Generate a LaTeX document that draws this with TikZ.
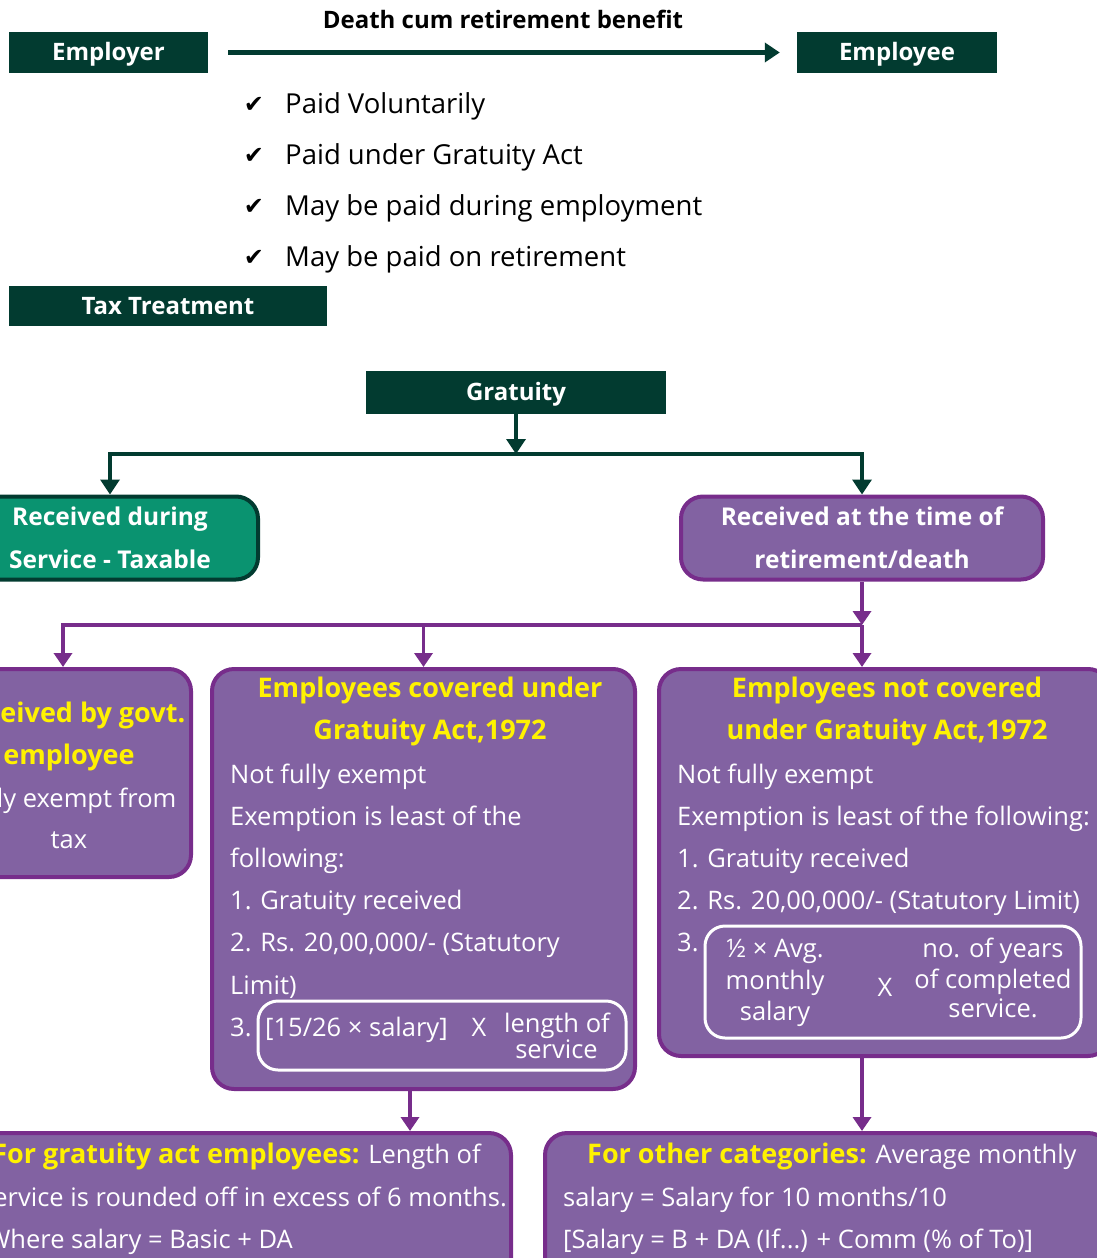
\documentclass[tikz,border=0pt]{standalone}
\usepackage{fontspec}
\setmainfont{Open Sans}
\newfontfamily\symfont{DejaVu Sans}
\usetikzlibrary{arrows.meta}
\definecolor{darkgreen}{HTML}{023B30}
\definecolor{srvgreen}{HTML}{0A9370}
\definecolor{purplefill}{HTML}{8262A2}
\definecolor{purpleline}{HTML}{772D8B}
\definecolor{titleyellow}{HTML}{FFF200}
\tikzset{
  darkbox/.style={fill=darkgreen, text=white, inner sep=0pt,
    text height=19pt, text depth=3pt,
    font=\bfseries\fontsize{24}{28}\selectfont},
  roundbox/.style={rounded corners=22pt, line width=4pt, inner sep=0pt,
    draw=purpleline, fill=purplefill, text=white, align=center,
    font=\bfseries\fontsize{24.5}{43}\selectfont},
  innerbox/.style={rounded corners=20pt, line width=3pt, draw=white},
  body/.style={text=white, inner sep=0pt, anchor=base west,
    font=\fontsize{25.5}{30}\selectfont},
  ttl/.style={text=titleyellow, inner sep=0pt, anchor=base,
    font=\bfseries\fontsize{27}{30}\selectfont},
  garr/.style={draw=darkgreen, line width=3.5pt,
    -{Triangle[width=19pt,length=15pt]}},
  parr/.style={draw=purpleline, line width=3.5pt,
    -{Triangle[width=18pt,length=14pt]}}
}
\begin{document}
\begin{tikzpicture}[x=1pt,y=-1pt]
  \useasboundingbox (0,0) rectangle (1097,1258);
  \clip (0,0) rectangle (1097,1258);

  % top part
  \node[inner sep=0pt, anchor=base, font=\bfseries\fontsize{24}{28}\selectfont] (dcrb) at (503,28) {Death cum retirement benefit};
  \node[darkbox, minimum width=199pt, minimum height=41pt] (employer) at (108.5,52.5) {Employer};
  \node[darkbox, minimum width=200pt, minimum height=41pt] (employee) at (897,52.5) {Employee};
  \draw[garr, line width=4.5pt, shorten <=20pt, shorten >=17pt] (employer.east) -- (employee.west);
  \foreach \itm [count=\i from 0] in {Paid Voluntarily, Paid under Gratuity Act, May be paid during employment, May be paid on retirement} {
    \node[font=\symfont\fontsize{24}{26}\selectfont, inner sep=0pt] (ck\i) at (254,{105+51*\i}) {✔};
    \node[inner sep=0pt, anchor=base west, font=\fontsize{27.5}{30}\selectfont] (it\i) at (285,{113+51*\i}) {\itm};
  }
  \node[darkbox, minimum width=318pt, minimum height=40pt] (tax) at (168,306) {Tax Treatment};

  % gratuity tree
  \node[darkbox, minimum width=300pt, minimum height=43pt] (grat) at (516,392.5) {Gratuity};
  \node[roundbox, draw=darkgreen, fill=srvgreen, minimum width=296pt, minimum height=83pt] (srv) at (110,538) {Received during\\Service - Taxable};
  \node[roundbox, minimum width=362pt, minimum height=83pt] (ret) at (862,538) {Received at the time of\\retirement/death};
  \coordinate (b1) at (516,454);
  \draw[garr] (grat.south) -- (b1);
  \draw[garr] (b1) -| (srv.north);
  \draw[garr] (b1) -| (ret.north);

  \node[roundbox, minimum width=256pt, minimum height=208pt] (govt) at (63,773) {};
  \node[roundbox, minimum width=423pt, minimum height=420pt] (cov) at (423.5,879) {};
  \node[roundbox, minimum width=451pt, minimum height=387pt] (ncov) at (884.5,862.5) {};
  \coordinate (b2) at (862,625);
  \draw[parr] (ret.south) -- (b2);
  \draw[parr] (b2) -| (govt.north);
  \draw[parr] (b2) -| (cov.north);
  \draw[parr] (b2) -- (b2 |- ncov.north);

  % govt. employee
  \node[ttl] (gv1) at (69,722) {Received by govt.};
  \node[ttl] (gv2) at (69,764) {employee};
  \node[body, anchor=base] (gv3) at (69,807) {Fully exempt from};
  \node[body, anchor=base] (gv4) at (69,848) {tax};

  % covered under the act
  \node[ttl] (cv1) at (430,697) {Employees covered under};
  \node[ttl] (cv2) at (430,739) {Gratuity Act,1972};
  \foreach \ln [count=\i from 0] in {Not fully exempt, Exemption is least of the, following:, 1. Gratuity received, {2. Rs. 20,00,000/- (Statutory}, Limit), 3.}
    \node[body] (cvl\i) at (230,{783+42.2*\i}) {\ln};
  \node[innerbox, minimum width=368pt, minimum height=69pt] (cin) at (442,1035.5) {};
  \node[body] (cf1) at (265,1036) {[15/26 × salary]};
  \node[body, anchor=base] (cfx) at (479,1036) {X};
  \node[body, anchor=base east] (cf2) at (610,1032) {length of};
  \node[body, anchor=base east] (cf3) at (598,1058) {service};

  % not covered under the act
  \node[ttl] (nc1) at (887,697) {Employees not covered};
  \node[ttl] (nc2) at (887,739) {under Gratuity Act,1972};
  \foreach \ln [count=\i from 0] in {Not fully exempt, Exemption is least of the following:, 1. Gratuity received, {2. Rs. 20,00,000/- (Statutory Limit)}, 3.}
    \node[body] (ncl\i) at (677,{783+42.2*\i}) {\ln};
  \node[innerbox, minimum width=376pt, minimum height=112pt] (nin) at (893,982) {};
  \foreach \ln/\yy [count=\i] in {½ × Avg./957, monthly/989, salary/1020}
    \node[body, anchor=base] (nfa\i) at (775,\yy) {\ln};
  \node[body, anchor=base] (nfx) at (885,996) {X};
  \foreach \ln/\yy [count=\i] in {no. of years/957, of completed/988, service./1017}
    \node[body, anchor=base] (nfb\i) at (993,\yy) {\ln};

  % bottom notes
  \node[roundbox, minimum width=551pt, minimum height=157pt] (gact) at (235.5,1211.5) {};
  \node[roundbox, minimum width=565pt, minimum height=157pt] (oth) at (827.5,1211.5) {};
  \coordinate (b3) at (410,1100);
  \draw[parr] (b3 |- cov.south) -- (b3 |- gact.north);
  \draw[parr] (b2 |- ncov.south) -- (b2 |- oth.north);
  \node[body, anchor=base east] (ga1) at (481,1163) {{\color{titleyellow}\bfseries\fontsize{27}{30}\selectfont For gratuity act employees:} Length of};
  \node[body, anchor=base east] (ga2) at (507,1206) {service is rounded off in excess of 6 months.};
  \node[body, anchor=base east] (ga3) at (293,1248) {Where salary = Basic + DA};
  \node[body] (ot1) at (587,1163) {{\color{titleyellow}\bfseries\fontsize{27}{30}\selectfont For other categories:} Average monthly};
  \node[body] (ot2) at (563,1206) {salary = Salary for 10 months/10};
  \node[body] (ot3) at (563,1248) {[Salary = B + DA (If...) + Comm (\% of To)]};
\end{tikzpicture}
\end{document}
